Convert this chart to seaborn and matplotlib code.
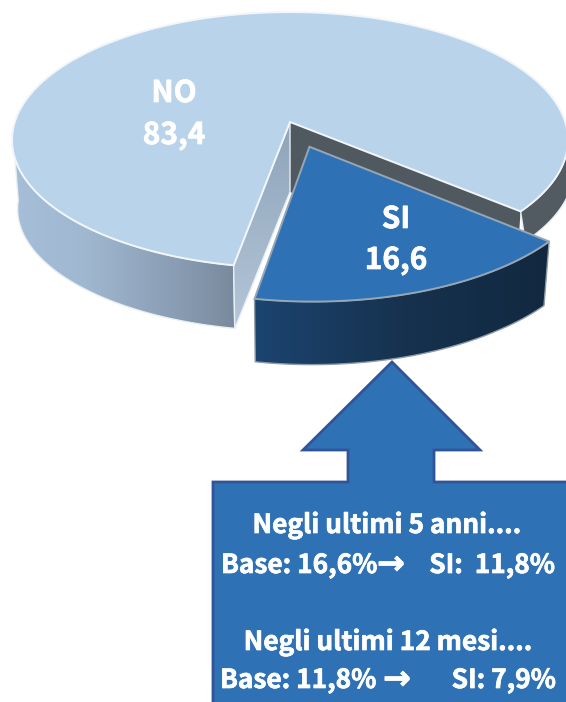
import numpy as np
import matplotlib
matplotlib.use("Agg")
import matplotlib.pyplot as plt
import matplotlib.patheffects as pe
from matplotlib.patches import Polygon
import seaborn as sns

# ---- data ----
labels = ["NO", "SI"]
values = [83.4, 16.6]
value_texts = ["83,4", "16,6"]
box_title_1 = "Negli ultimi 5 anni...."
box_base_1 = "Base: 16,6%"
box_si_1 = "SI:  11,8%"
box_title_2 = "Negli ultimi 12 mesi...."
box_base_2 = "Base: 11,8%"
box_si_2 = "SI: 7,9%"
arrow_glyph = "→"

sns.set_theme(style="white")
plt.rcParams['font.family'] = ['Noto Sans CJK SC', 'DejaVu Sans']
plt.rcParams['font.weight'] = 'bold'

W, H = 566, 702
fig = plt.figure(figsize=(W / 100, H / 100), dpi=100)
ax = fig.add_axes([0, 0, 1, 1])
ax.set_axis_off()

# perspective view of the pie disc
CX, CY = 290.0, 122.0
A, B, K = 275.2, 125.4, 0.1407
DEPTH = 63.0
XS = 0.98
START = 40.4
EXPLODE = 0.204


def project(u, v, bottom=False, xs=XS, depth=None):
    w = 1 - K * v
    x, y = A * u / w, B * v / w
    if bottom:
        d = DEPTH + 7 * (1 - np.clip(v, 0, 1)) if depth is None else depth
        return CX + xs * x, CY + y + d
    return CX + x, CY + y


def rim(a0, a1, off=(0, 0), bottom=False, n=120, **kw):
    t = np.radians(np.linspace(a0, a1, n))
    x, y = project(np.cos(t) + off[0], np.sin(t) + off[1], bottom, **kw)
    return np.column_stack([x, y])


def wall(a0, a1, off=(0, 0), **kw):
    return np.vstack([rim(a0, a1, off), rim(a0, a1, off, True, **kw)[::-1]])


def gradient(poly, colors, horizontal=True, ec=None, lw=1.2, z=1):
    cmap = sns.blend_palette(colors, as_cmap=True)
    x0, y0 = poly.min(axis=0)
    x1, y1 = poly.max(axis=0)
    g = np.linspace(0, 1, 256)
    g = g[None, :] if horizontal else g[:, None]
    patch = Polygon(poly, closed=True, transform=ax.transData, fc="none", ec="none")
    ax.add_patch(patch)
    im = ax.imshow(g, extent=(x0, x1, y1, y0), cmap=cmap, aspect="auto", zorder=z, interpolation="bilinear")
    im.set_clip_path(patch)
    if ec:
        ax.add_patch(Polygon(poly, closed=True, fc="none", ec=ec, lw=lw, zorder=z + 0.1, joinstyle="round"))


span = values[1] / sum(values) * 360
a_si0, a_si1 = START, START + span
mid = np.radians((a_si0 + a_si1) / 2)
off = (EXPLODE * np.cos(mid), EXPLODE * np.sin(mid))

# NO: hidden-side walls and notch faces
apex_top = np.array(project(0, 0))
apex_bot = np.array(project(0, 0, True))

gradient(wall(a_si1, 176), ["#a6bed8", "#a0b7d0", "#8da2b9", "#7a8a9d"], ec="#e8eef5", lw=1, z=1)
end_l = rim(a_si1, a_si1, n=1)[0]
end_lb = rim(a_si1, a_si1, bottom=True, n=1)[0]
gradient(np.array([apex_top, end_l, end_lb, apex_bot]), ["#8ea4ba", "#b4c6d8"], horizontal=False,
         ec="#e8eef5", lw=1, z=2)
end_r = rim(a_si0, a_si0, n=1)[0]
end_rb = rim(a_si0, a_si0, bottom=True, n=1)[0]
ax.add_patch(Polygon([apex_top, end_r, end_rb, apex_bot], closed=True, fc="#50595f", ec="none", zorder=2))
ax.add_patch(Polygon(wall(-12, a_si0, xs=1.02, depth=30), closed=True, fc="#525b61", ec="#e8eef5", lw=1, zorder=2))

# NO: top face
no_top = np.vstack([[apex_top], rim(a_si1, a_si0 + 360, n=300)])
ax.add_patch(Polygon(no_top, closed=True, fc="#b9d4ea", ec="#f2f6fa", lw=1.4, zorder=3))

# SI: exploded slice
gradient(wall(a_si0, a_si1, off), ["#1c4470", "#16324f", "#12283f"], ec="#8d9aa8", lw=1, z=4)
si_apex = project(off[0], off[1])
si_top = np.vstack([[si_apex], rim(a_si0, a_si1, off)])
ax.add_patch(Polygon(si_top, closed=True, fc="#2e72b5", ec="#97a6b6", lw=1.4, zorder=5))

# call-out arrow with box
shape_x = [392, 480, 434, 434, 570, 570, 213, 213, 348, 348, 303]
shape_y = [362, 450, 450, 482, 482, 706, 706, 482, 482, 450, 450]
ax.add_patch(Polygon(np.column_stack([shape_x, shape_y]), closed=True, fc="#2e72b5", ec="#2f5597",
                     lw=2, zorder=6))

ax.set_xlim(0, W)
ax.set_ylim(H, 0)

# texts
heavy = [pe.withStroke(linewidth=0.5, foreground="white")]
tk = dict(color="white", fontweight="bold", zorder=8, path_effects=heavy)
ax.text(174, 102, labels[0], ha="center", va="baseline", fontsize=21.5, **tk)
ax.text(174, 144, value_texts[0], ha="center", va="baseline", fontsize=21.5, **tk)
ax.text(396, 228, labels[1], ha="center", va="baseline", fontsize=21.5, **tk)
ax.text(396, 269, value_texts[1], ha="center", va="baseline", fontsize=21.5, **tk)

fs = 18.9
ax.text(387, 533, box_title_1, ha="center", va="baseline", fontsize=fs, **tk)
ax.text(221, 573, box_base_1, ha="left", va="baseline", fontsize=fs, **tk)
ax.text(391, 574, arrow_glyph, ha="center", va="baseline", fontsize=24, family="DejaVu Sans", **tk)
ax.text(555, 573, box_si_1, ha="right", va="baseline", fontsize=fs, **tk)
ax.text(388, 650, box_title_2, ha="center", va="baseline", fontsize=fs, **tk)
ax.text(220, 688, box_base_2, ha="left", va="baseline", fontsize=fs, **tk)
ax.text(397, 689, arrow_glyph, ha="center", va="baseline", fontsize=24, family="DejaVu Sans", **tk)
ax.text(556, 688, box_si_2, ha="right", va="baseline", fontsize=fs, **tk)

fig.savefig("out.png", dpi=100, facecolor="white")
